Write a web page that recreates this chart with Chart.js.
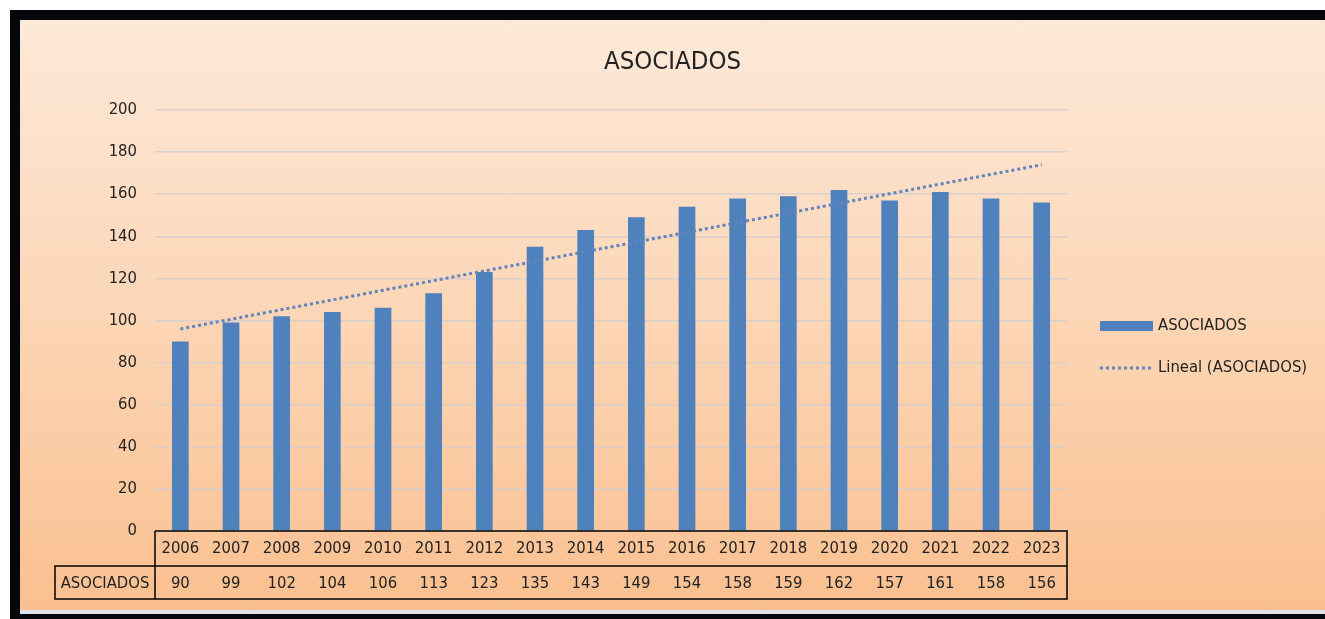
<!DOCTYPE html>
<html lang="es">
<head>
<meta charset="utf-8">
<title>ASOCIADOS</title>
<script src="https://cdn.jsdelivr.net/npm/chart.js@4.4.1/dist/chart.umd.min.js"></script>
<style>
    html, body { margin: 0; padding: 0; background: #fff; width: 1325px; height: 619px; overflow: hidden; }
    #marco { position: absolute; left: 10px; top: 10px; width: 1315px; height: 609px; background: #05070d; }
    #panel {
        position: absolute; left: 20px; top: 20px; width: 1305px; height: 590px;
        background: linear-gradient(to bottom, #fde9d9 0%, #fcd6b6 50%, #fac090 100%);
    }
    #franja { position: absolute; left: 20px; top: 610px; width: 1305px; height: 4px; background: #dfe4ec; }
    canvas { display: block; }
</style>
</head>
<body>
<div id="marco"></div>
<div id="panel"><canvas id="asociadosChart" width="1305" height="590"></canvas></div>
<div id="franja"></div>

<script>
// Datos del gráfico
const titulo = 'ASOCIADOS';
const anios = ['2006', '2007', '2008', '2009', '2010', '2011', '2012', '2013', '2014',
               '2015', '2016', '2017', '2018', '2019', '2020', '2021', '2022', '2023'];
const asociados = [90, 99, 102, 104, 106, 113, 123, 135, 143, 149, 154, 158, 159, 162, 157, 161, 158, 156];
// Extremos de la línea de tendencia (2006 y 2023)
const tendenciaExtremos = [96, 174];
const marcasY = [0, 20, 40, 60, 80, 100, 120, 140, 160, 180, 200];

const fuente = '"Liberation Sans Narrow", "Arial Narrow", "DejaVu Sans Condensed", sans-serif';
const tamTexto = 16.5;
const colorTexto = '#222222';
const azul = '#4f81bd';
const azulTendencia = '#6283bd';

// Solo los extremos; el resto queda vacío y se une con spanGaps
const tendencia = anios.map((a, i) => {
    if (i === 0) return tendenciaExtremos[0];
    if (i === anios.length - 1) return tendenciaExtremos[1];
    return null;
});

// Título centrado sobre todo el panel
const tituloPlugin = {
    id: 'tituloPlugin',
    afterDraw(chart) {
        const ctx = chart.ctx;
        ctx.save();
        ctx.font = '25.5px ' + fuente;
        ctx.fillStyle = colorTexto;
        ctx.textAlign = 'center';
        ctx.textBaseline = 'middle';
        ctx.fillText(titulo, chart.width / 2, 42);
        ctx.restore();
    }
};

// Leyenda a la derecha
const leyendaPlugin = {
    id: 'leyendaPlugin',
    afterDraw(chart) {
        const ctx = chart.ctx;
        const x0 = 1080, ancho = 53;
        ctx.save();
        ctx.font = tamTexto + 'px ' + fuente;
        ctx.textBaseline = 'middle';
        chart.data.datasets.forEach((ds, i) => {
            const y = 306 + i * 42;
            if (ds.type === 'line') {
                ctx.strokeStyle = ds.borderColor;
                ctx.lineWidth = ds.borderWidth;
                ctx.setLineDash(ds.borderDash);
                ctx.beginPath();
                ctx.moveTo(x0, y);
                ctx.lineTo(x0 + ancho, y);
                ctx.stroke();
                ctx.setLineDash([]);
            } else {
                ctx.fillStyle = ds.backgroundColor;
                ctx.fillRect(x0, y - 5, ancho, 10);
            }
            ctx.fillStyle = colorTexto;
            ctx.fillText(ds.label, x0 + ancho + 5, y);
        });
        ctx.restore();
    }
};

// Tabla de datos bajo el eje X
const tablaPlugin = {
    id: 'tablaPlugin',
    afterDraw(chart) {
        const { ctx, chartArea: a, scales: { x } } = chart;
        const arriba = a.bottom, medio = arriba + 35, abajo = medio + 33, izq = a.left - 100;
        ctx.save();
        ctx.strokeStyle = '#000';
        ctx.lineWidth = 1.5;
        ctx.beginPath();
        ctx.moveTo(a.left, arriba);
        ctx.lineTo(a.right, arriba);
        ctx.lineTo(a.right, abajo);
        ctx.lineTo(izq, abajo);
        ctx.lineTo(izq, medio);
        ctx.lineTo(a.right, medio);
        ctx.moveTo(a.left, arriba);
        ctx.lineTo(a.left, abajo);
        ctx.stroke();

        ctx.font = tamTexto + 'px ' + fuente;
        ctx.fillStyle = colorTexto;
        ctx.textAlign = 'center';
        ctx.textBaseline = 'middle';
        const serie = chart.data.datasets[0];
        chart.data.labels.forEach((lab, i) => {
            const px = x.getPixelForValue(i);
            ctx.fillText(lab, px, (arriba + medio) / 2);
            ctx.fillText(String(serie.data[i]), px, (medio + abajo) / 2 + 1);
        });
        ctx.fillText(serie.label, (izq + a.left) / 2, (medio + abajo) / 2 + 1);
        ctx.restore();
    }
};

new Chart(document.getElementById('asociadosChart').getContext('2d'), {
    type: 'bar',
    data: {
        labels: anios,
        datasets: [
            {
                type: 'bar',
                label: 'ASOCIADOS',
                data: asociados,
                backgroundColor: azul,
                barPercentage: 0.33,
                categoryPercentage: 1,
                order: 1
            },
            {
                type: 'line',
                label: 'Lineal (ASOCIADOS)',
                data: tendencia,
                spanGaps: true,
                borderColor: azulTendencia,
                borderWidth: 3,
                borderDash: [3, 3],
                pointRadius: 0,
                fill: false,
                order: 0
            }
        ]
    },
    options: {
        responsive: false,
        devicePixelRatio: 1,
        animation: false,
        layout: { padding: { top: 90, left: 75, right: 258, bottom: 79 } },
        plugins: {
            legend: { display: false },
            title: { display: false },
            tooltip: { enabled: false }
        },
        scales: {
            x: { display: false },
            y: {
                min: marcasY[0],
                max: marcasY[marcasY.length - 1],
                afterFit: (scale) => { scale.width = 60; },
                border: { display: false },
                grid: { color: 'rgba(205, 205, 210, 0.75)', lineWidth: 1.5, drawTicks: false },
                ticks: {
                    stepSize: marcasY[1] - marcasY[0],
                    padding: 18,
                    color: colorTexto,
                    font: { family: fuente, size: tamTexto }
                }
            }
        }
    },
    plugins: [tituloPlugin, leyendaPlugin, tablaPlugin]
});
</script>
</body>
</html>
